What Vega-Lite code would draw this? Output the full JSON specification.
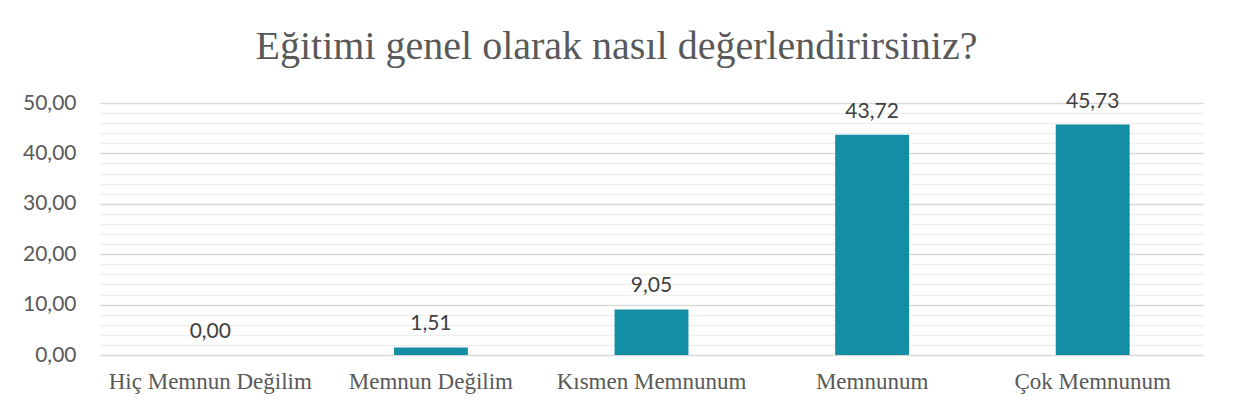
{
  "$schema": "https://vega.github.io/schema/vega-lite/v6.json",
  "width": 1103,
  "height": 252,
  "autosize": {"type": "none"},
  "padding": {"left": 100, "top": 103, "right": 31, "bottom": 62},
  "background": "white",
  "title": {
    "text": "Eğitimi genel olarak nasıl değerlendirirsiniz?",
    "font": "Liberation Serif",
    "fontSize": 40,
    "fontWeight": "normal",
    "color": "#595959",
    "anchor": "middle",
    "frame": "group",
    "baseline": "alphabetic",
    "offset": -8,
    "dx": -35
  },
  "data": {
    "values": [
      {"kategori": "Hiç Memnun Değilim", "deger": 0.00},
      {"kategori": "Memnun Değilim", "deger": 1.51},
      {"kategori": "Kısmen Memnunum", "deger": 9.05},
      {"kategori": "Memnunum", "deger": 43.72},
      {"kategori": "Çok Memnunum", "deger": 45.73}
    ]
  },
  "transform": [
    {"calculate": "replace(format(datum.deger, '.2f'), '.', ',')", "as": "etiket"}
  ],
  "encoding": {
    "x": {
      "field": "kategori",
      "type": "nominal",
      "sort": null,
      "title": null,
      "scale": {"paddingInner": 0.665, "paddingOuter": 0.3325},
      "axis": {
        "labelAngle": 0,
        "labelFont": "Liberation Serif",
        "labelFontSize": 23,
        "labelColor": "#595959",
        "labelPadding": 15,
        "labelLimit": 0,
        "labelOverlap": false,
        "ticks": false,
        "domain": false,
        "grid": false
      }
    },
    "y": {
      "field": "deger",
      "type": "quantitative",
      "title": null,
      "scale": {"domain": [0, 50], "nice": false},
      "axis": {
        "values": [0, 2, 4, 6, 8, 10, 12, 14, 16, 18, 20, 22, 24, 26, 28, 30, 32, 34, 36, 38, 40, 42, 44, 46, 48, 50],
        "labelExpr": "datum.value % 10 == 0 ? replace(format(datum.value, '.2f'), '.', ',') : ''",
        "labelFont": "Lato",
        "labelFontSize": 21,
        "labelColor": "#595959",
        "labelPadding": 24,
        "labelOverlap": false,
        "ticks": false,
        "domain": false,
        "grid": true,
        "gridColor": {"condition": {"test": "datum.value % 10 == 0", "value": "#d9d9d9"}, "value": "#efefef"},
        "gridWidth": {"condition": {"test": "datum.value % 10 == 0", "value": 1.6}, "value": 1.3}
      }
    }
  },
  "layer": [
    {"mark": {"type": "bar", "color": "#148EA5"}},
    {
      "mark": {"type": "text", "baseline": "alphabetic", "dy": -17, "font": "Lato", "fontSize": 21, "color": "#404040"},
      "encoding": {"text": {"field": "etiket"}}
    }
  ],
  "config": {"view": {"stroke": null}}
}
